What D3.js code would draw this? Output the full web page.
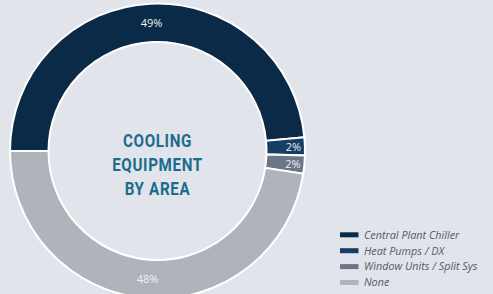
<!DOCTYPE html>
<html><head><meta charset="utf-8">
<script src="https://cdn.jsdelivr.net/npm/d3@7"></script>
<style>
html,body{margin:0;padding:0;background:#e1e4ea;overflow:hidden}
svg{display:block}
</style></head>
<body>
<svg id="chart" width="493" height="294"></svg>
<script>
const categories = ["Central Plant Chiller", "Heat Pumps / DX", "Window Units / Split Sys", "None"];
const values = [49, 2, 2, 48];
const valueLabels = ["49%", "2%", "2%", "48%"];
const colors = ["#0b2a48", "#163d63", "#6c7689", "#afb4ba"];
const titleLines = ["COOLING", "EQUIPMENT", "BY AREA"];

const svg = d3.select("#chart");
const W = 493, H = 294;
svg.append("rect").attr("width", W).attr("height", H).attr("fill", "#e1e4ea");

const cx = 157.5, cy = 151, rOuter = 147.5, rInner = 109;
const g = svg.append("g").attr("transform", `translate(${cx},${cy})`);

const pie = d3.pie().sort(null).value(d => d)
  .startAngle(-Math.PI / 2).endAngle(1.5 * Math.PI);
const arcs = pie(values);
const arc = d3.arc().innerRadius(rInner).outerRadius(rOuter);

g.selectAll("path.slice").data(arcs).enter().append("path")
  .attr("class", "slice")
  .attr("d", arc)
  .attr("fill", (d, i) => colors[i])
  .attr("stroke", "#ffffff")
  .attr("stroke-width", 2)
  .attr("stroke-linejoin", "miter");

const labelArc = d3.arc().innerRadius(128).outerRadius(128);
const smallArc = d3.arc().innerRadius(136).outerRadius(136);
g.selectAll("text.pct").data(arcs).enter().append("text")
  .attr("class", "pct")
  .attr("transform", (d, i) => {
    const c = (values[i] < 5 ? smallArc : labelArc).centroid(d);
    return `translate(${c[0]},${c[1]})`;
  })
  .attr("text-anchor", "middle")
  .attr("dy", "0.36em")
  .attr("font-family", "'Open Sans', sans-serif")
  .attr("font-size", 11)
  .attr("fill", "#eef1f5")
  .text((d, i) => valueLabels[i]);

const title = g.append("text")
  .attr("transform", "scale(0.8,1)")
  .attr("text-anchor", "middle")
  .attr("font-family", "Roboto, sans-serif")
  .attr("font-weight", "bold")
  .attr("font-size", 19)
  .attr("letter-spacing", 0.8)
  .attr("fill", "#1b6c8d");
titleLines.forEach((t, i) => {
  title.append("tspan").attr("x", 0).attr("y", -4.5 + i * 24.5).text(t);
});

const legend = svg.append("g").attr("transform", "translate(340,232.3)");
const rows = legend.selectAll("g").data(categories).enter().append("g")
  .attr("transform", (d, i) => `translate(0,${i * 15.9})`);
rows.append("rect").attr("x", 0).attr("y", 0).attr("width", 18.5).attr("height", 5)
  .attr("fill", (d, i) => colors[i]);
rows.append("text").attr("x", 24).attr("y", 6.3)
  .attr("font-family", "'Open Sans', sans-serif")
  .attr("font-style", "italic")
  .attr("font-size", 10.8)
  .attr("fill", "#555b63")
  .text(d => d);
</script>
</body></html>
